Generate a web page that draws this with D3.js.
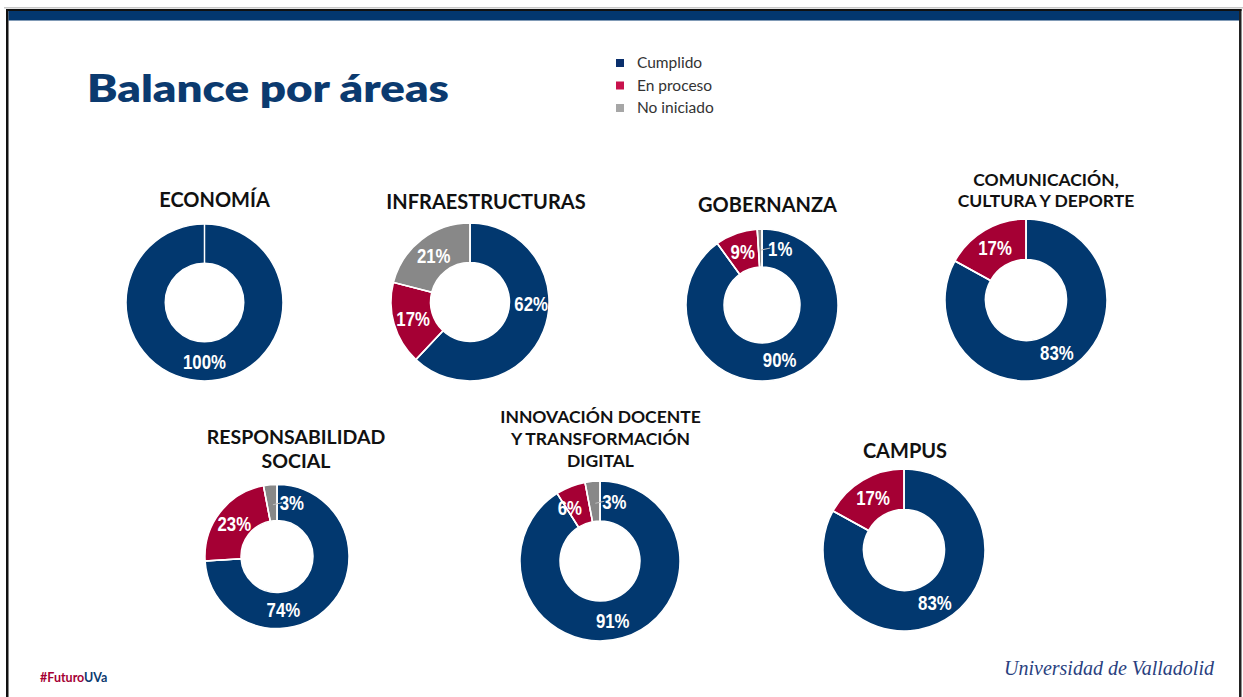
<!DOCTYPE html>
<html><head><meta charset="utf-8">
<script src="https://cdn.jsdelivr.net/npm/d3@7"></script>
<style>
html,body{margin:0;padding:0;background:#fff;}
svg{display:block;}
</style></head>
<body>
<svg id="c" width="1243" height="697"></svg>
<script>
// ---- data ----
const categories = ["ECONOMÍA","INFRAESTRUCTURAS","GOBERNANZA","COMUNICACIÓN, CULTURA Y DEPORTE","RESPONSABILIDAD SOCIAL","INNOVACIÓN DOCENTE Y TRANSFORMACIÓN DIGITAL","CAMPUS"];
const titleLines = [["ECONOMÍA"],["INFRAESTRUCTURAS"],["GOBERNANZA"],["COMUNICACIÓN,","CULTURA Y DEPORTE"],["RESPONSABILIDAD","SOCIAL"],["INNOVACIÓN DOCENTE","Y TRANSFORMACIÓN","DIGITAL"],["CAMPUS"]];
const seriesNames = ["Cumplido","En proceso","No iniciado"];
const cumplido   = [100, 62, 90, 83, 74, 91, 83];
const enProceso  = [  0, 17,  9, 17, 23,  6, 17];
const noIniciado = [  0, 21,  1,  0,  3,  3,  0];

// ---- layout (not data) ----
const layout = [
  {cx:204.5, cy:302.5, r:78.5, tx:214.5, ty:[207], fs:20},
  {cx:470,   cy:302,   r:79,   tx:486,   ty:[209], fs:20},
  {cx:762,   cy:305,   r:76,   tx:767.5, ty:[212], fs:20},
  {cx:1026,  cy:300,   r:81,   tx:1046,  ty:[186,207], fs:17.5},
  {cx:277,   cy:556.5, r:72,   tx:296,   ty:[444,468], fs:19.5},
  {cx:600,   cy:561,   r:80,   tx:600.5, ty:[423,445,467], fs:17.5},
  {cx:904,   cy:550,   r:81,   tx:905,   ty:[458], fs:20}
];
// manual label nudges (chart index - series index) like the original's moved labels
const labelNudge = {"1-0":[6,-20], "4-0":[-33,16], "5-1":[-8,2], "5-0":[-4,2]};

const colors = d3.scaleOrdinal().domain(seriesNames).range(["#02386f","#a50034","#888888"]);
const legendColors = d3.scaleOrdinal().domain(seriesNames).range(["#0a2f6c","#c8124c","#a6a6a6"]);

const svg = d3.select("#c");

// frame
svg.append("rect").attr("x",4).attr("y",7).attr("width",1239).attr("height",1.5).attr("fill","#c8c8c8");
svg.append("rect").attr("x",6).attr("y",9).attr("width",2.5).attr("height",700).attr("fill","#111");
svg.append("rect").attr("x",1239).attr("y",9).attr("width",2.5).attr("height",700).attr("fill","#222");
svg.append("rect").attr("x",6).attr("y",9).attr("width",1235.5).attr("height",2).attr("fill","#111");
svg.append("rect").attr("x",8.5).attr("y",11).attr("width",1230.5).attr("height",9.5).attr("fill","#03376f");

// title
svg.append("text").attr("x",87).attr("y",102).text("Balance por áreas")
  .attr("font-family","Lato, 'Open Sans', sans-serif").attr("font-weight",800)
  .attr("font-size",38).attr("fill","#0b3a6f")
  .attr("textLength",362).attr("lengthAdjust","spacingAndGlyphs");

// legend
const lg = svg.append("g").attr("transform","translate(616,59)");
seriesNames.forEach((s,i)=>{
  const g = lg.append("g").attr("transform",`translate(0,${i*22.5})`);
  g.append("rect").attr("width",8).attr("height",8).attr("fill",legendColors(s));
  g.append("text").attr("x",21).attr("y",4).attr("dy","0.35em").text(s)
    .attr("font-family","Lato, sans-serif").attr("font-size",15.5).attr("fill","#333");
});

const pie = d3.pie().sort(null).value(d=>d.v);

categories.forEach((cat,i)=>{
  const L = layout[i];
  const data = seriesNames.map((s,k)=>({s, k, v:[cumplido,enProceso,noIniciado][k][i]}));
  const arcs = pie(data).filter(a=>a.data.v>0);
  const arc = d3.arc().innerRadius(L.r*0.5).outerRadius(L.r);
  const g = svg.append("g").attr("transform",`translate(${L.cx},${L.cy})`);

  g.selectAll("path.slice").data(arcs).enter().append("path")
    .attr("class","slice").attr("d",arc).attr("fill",d=>colors(d.data.s))
    .attr("stroke","#fff").attr("stroke-width",1.5);

  // separator lines at slice starts
  g.selectAll("line.sep").data(arcs).enter().append("line")
    .attr("x1",d=>Math.sin(d.startAngle)*L.r*0.5).attr("y1",d=>-Math.cos(d.startAngle)*L.r*0.5)
    .attr("x2",d=>Math.sin(d.startAngle)*(L.r+1)).attr("y2",d=>-Math.cos(d.startAngle)*(L.r+1))
    .attr("stroke","#fff").attr("stroke-width",1.5);

  arcs.forEach(a=>{
    let [x,y] = arc.centroid(a);
    const small = a.data.v <= 3;
    let lx = small ? x+20 : x;
    const nd = labelNudge[i+"-"+a.data.k];
    if(nd){ lx += nd[0]; y += nd[1]; }
    if(small){
      g.append("line").attr("x1",x+1).attr("y1",y+2).attr("x2",lx-10).attr("y2",y)
        .attr("stroke","#bfbfbf").attr("stroke-width",1);
    }
    g.append("text").attr("transform",`translate(${lx},${y}) scale(0.8,1)`)
      .attr("dy","0.36em")
      .attr("text-anchor","middle").text(a.data.v+"%")
      .attr("font-family","'Liberation Sans Narrow','Arial Narrow','Liberation Sans',sans-serif")
      .attr("font-weight",700).attr("font-size",21).attr("fill","#fff");
  });

  const t = svg.append("text").attr("text-anchor","middle")
    .attr("font-family","Lato, sans-serif").attr("font-weight",700)
    .attr("font-size",L.fs).attr("fill","#111");
  titleLines[i].forEach((ln,k)=>{
    t.append("tspan").attr("x",L.tx).attr("y",L.ty[k]).text(ln);
  });
});

// footer
const ft = svg.append("text").attr("x",40).attr("y",682)
  .attr("font-family","Lato, sans-serif").attr("font-weight",700).attr("font-size",12.5);
ft.append("tspan").attr("fill","#a50034").text("#Futuro");
ft.append("tspan").attr("fill","#0b3a6f").text("UVa");

svg.append("text").attr("x",1004).attr("y",675)
  .text("Universidad de Valladolid")
  .attr("font-family","'Liberation Serif', serif").attr("font-style","italic")
  .attr("font-size",20).attr("fill","#2a3f80");
</script>
</body></html>
